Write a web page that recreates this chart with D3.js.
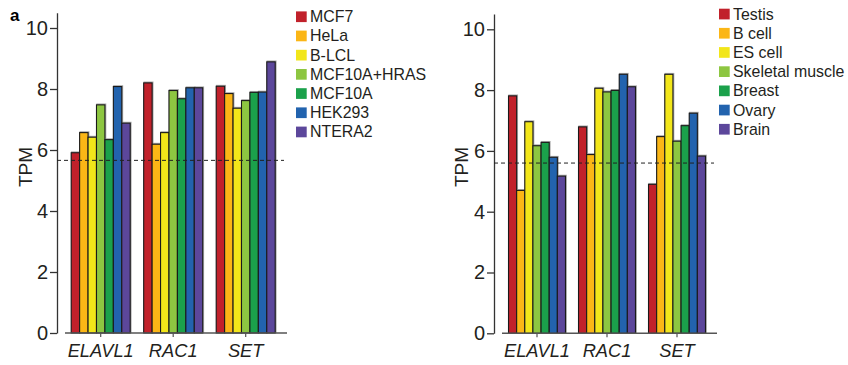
<!DOCTYPE html>
<html>
<head>
<meta charset="utf-8">
<script src="https://cdn.jsdelivr.net/npm/d3@7"></script>
<style>
  body { margin: 0; background: #fff; }
  svg { font-family: "Liberation Sans", Arial, sans-serif; }
  .tick text { fill: #231f20; }
</style>
</head>
<body>
<div id="chart"></div>
<script>
// genes on the x axis (both panels)
const genes = ["ELAVL1", "RAC1", "SET"];

// left panel: cell lines
const cellLines = ["MCF7", "HeLa", "B-LCL", "MCF10A+HRAS", "MCF10A", "HEK293", "NTERA2"];
const cellValues = [
  [5.91, 6.57, 6.42, 7.48, 6.34, 8.08, 6.88], // ELAVL1
  [8.20, 6.19, 6.57, 7.95, 7.68, 8.04, 8.04], // RAC1
  [8.09, 7.85, 7.37, 7.62, 7.89, 7.90, 8.89]  // SET
];
const cellThreshold = 5.66;

// right panel: tissues
const tissues = ["Testis", "B cell", "ES cell", "Skeletal muscle", "Breast", "Ovary", "Brain"];
const tissueValues = [
  [7.81, 4.70, 6.96, 6.17, 6.28, 5.79, 5.17],
  [6.79, 5.88, 8.06, 7.94, 7.99, 8.52, 8.11],
  [4.90, 6.47, 8.52, 6.32, 6.83, 7.24, 5.83]
];
const tissueThreshold = 5.60;

const yTicks = [0, 2, 4, 6, 8, 10];
const colors = ["#c1212b", "#fbb616", "#f2e61a", "#8dc641", "#1ba14b", "#2263ae", "#5c479b"];

const svg = d3.select("#chart").append("svg")
  .attr("width", 848)
  .attr("height", 365);

svg.append("text")
  .attr("x", 10).attr("y", 21)
  .attr("font-size", 17).attr("font-weight", "bold")
  .text("a");

function drawPanel(cfg) {
  const g = svg.append("g");

  let y = d3.scaleLinear().domain([0, 10.5]).range([cfg.y0, cfg.yTop]);
  let x = d3.scaleBand().domain(genes)
    .range(cfg.xRange).paddingInner(0.186).paddingOuter(0.093);
  let xs = d3.scaleBand().domain(d3.range(cfg.series.length)).range([0, x.bandwidth()]);

  // y axis
  const ya = g.append("g")
    .attr("transform", "translate(" + cfg.axisX + ",0)")
    .call(d3.axisLeft(y).tickValues(yTicks).tickSize(7).tickSizeOuter(0).tickPadding(2));
  ya.select(".domain").attr("stroke", "#333").attr("stroke-width", 1.3);
  ya.selectAll(".tick line").attr("stroke", "#333").attr("stroke-width", 1.3);
  ya.selectAll(".tick text").attr("font-size", 20).attr("font-family", "Liberation Sans, Arial");

  // bars
  cfg.values.forEach((row, gi) => {
    const grp = g.append("g").attr("transform", "translate(" + x(genes[gi]) + ",0)");
    grp.selectAll("rect.shadow").data(row).enter().append("rect")
      .attr("class", "shadow")
      .attr("x", (d, i) => xs(i) + 0.6)
      .attr("y", d => y(d) - 0.6)
      .attr("width", xs.bandwidth())
      .attr("height", d => y(0) - y(d))
      .attr("fill", "none")
      .attr("stroke", "#aaa")
      .attr("stroke-width", 1.6);
    grp.selectAll("rect.bar").data(row).enter().append("rect")
      .attr("class", "bar")
      .attr("x", (d, i) => xs(i))
      .attr("y", d => y(d))
      .attr("width", xs.bandwidth())
      .attr("height", d => y(0) - y(d))
      .attr("fill", (d, i) => colors[i])
      .attr("stroke", "#1a1a1a")
      .attr("stroke-width", 1.1);
  });

  // x axis
  const xa = g.append("g")
    .attr("transform", "translate(0," + cfg.y0 + ")")
    .call(d3.axisBottom(x).tickSize(4).tickSizeOuter(0).tickPadding(7));
  xa.select(".domain").remove();
  xa.selectAll(".tick line").attr("stroke", "#555").attr("stroke-width", 1.2);
  xa.selectAll(".tick text")
    .attr("font-size", 18.3).attr("font-style", "italic")
    .attr("font-family", "Liberation Sans, Arial");
  g.append("line")
    .attr("x1", cfg.xLine[0]).attr("x2", cfg.xLine[1])
    .attr("y1", cfg.y0).attr("y2", cfg.y0)
    .attr("stroke", "#555").attr("stroke-width", 1.5);

  // threshold
  g.append("line")
    .attr("x1", cfg.axisX).attr("x2", cfg.xLine[1] - 3)
    .attr("y1", y(cfg.threshold)).attr("y2", y(cfg.threshold))
    .attr("stroke", "#222").attr("stroke-width", 1)
    .attr("stroke-dasharray", "4,3");

  // y label
  g.append("text")
    .attr("transform", "translate(" + cfg.labelX + "," + 167 + ") rotate(-90)")
    .attr("text-anchor", "middle")
    .attr("font-size", 19)
    .attr("fill", "#231f20")
    .text("TPM");

  // legend
  const lg = g.append("g").attr("transform", "translate(" + cfg.legendX + "," + cfg.legendY + ")");
  const item = lg.selectAll("g").data(cfg.series).enter().append("g")
    .attr("transform", (d, i) => "translate(0," + i * 19.2 + ")");
  item.append("rect")
    .attr("x", 0).attr("y", -5.3)
    .attr("width", 10.7).attr("height", 10.7)
    .attr("fill", (d, i) => colors[i]);
  item.append("text")
    .attr("x", 14).attr("y", 5.5)
    .attr("font-size", 15.9)
    .attr("fill", "#231f20")
    .text(d => d);
}

drawPanel({
  series: cellLines, values: cellValues, threshold: cellThreshold,
  y0: 333, yTop: 12.75, axisX: 57,
  xRange: [64.45, 281.95], xLine: [65, 287],
  labelX: 32, legendX: 296, legendY: 16.7
});

drawPanel({
  series: tissues, values: tissueValues, threshold: tissueThreshold,
  y0: 333.3, yTop: 14.1, axisX: 494,
  xRange: [502, 712], xLine: [502, 717],
  labelX: 468, legendX: 719, legendY: 14
});
</script>
</body>
</html>
